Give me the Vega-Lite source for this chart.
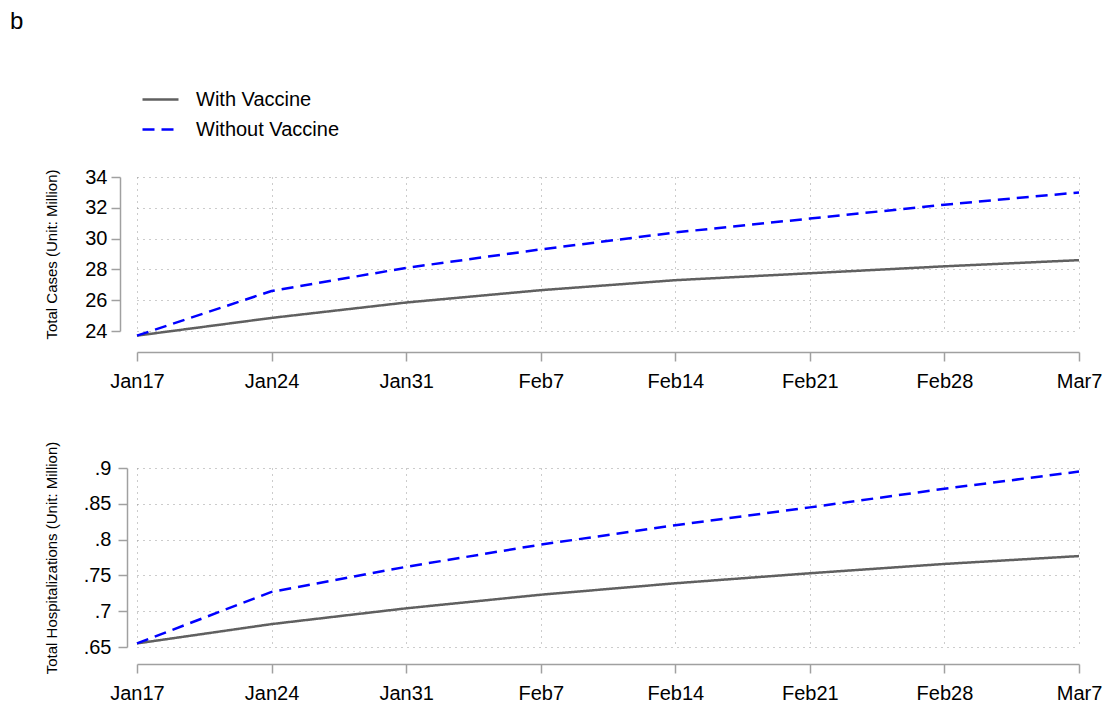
{
  "$schema": "https://vega.github.io/schema/vega-lite/v6.json",
  "background": "white",
  "padding": {"left": 10, "top": 10, "right": 20, "bottom": 0},
  "title": {"text": "b", "anchor": "start", "frame": "group", "fontSize": 24, "fontWeight": "normal", "font": "Liberation Sans", "color": "#000", "offset": 46, "dx": -127},
  "data": {
    "values": [
      {"date": "2021-01-17", "scenario": "With Vaccine", "cases": 23.7, "hosp": 0.655},
      {"date": "2021-01-24", "scenario": "With Vaccine", "cases": 24.85, "hosp": 0.682},
      {"date": "2021-01-31", "scenario": "With Vaccine", "cases": 25.85, "hosp": 0.704},
      {"date": "2021-02-07", "scenario": "With Vaccine", "cases": 26.65, "hosp": 0.723},
      {"date": "2021-02-14", "scenario": "With Vaccine", "cases": 27.3, "hosp": 0.739},
      {"date": "2021-02-21", "scenario": "With Vaccine", "cases": 27.75, "hosp": 0.753},
      {"date": "2021-02-28", "scenario": "With Vaccine", "cases": 28.2, "hosp": 0.766},
      {"date": "2021-03-07", "scenario": "With Vaccine", "cases": 28.6, "hosp": 0.777},
      {"date": "2021-01-17", "scenario": "Without Vaccine", "cases": 23.7, "hosp": 0.655},
      {"date": "2021-01-24", "scenario": "Without Vaccine", "cases": 26.6, "hosp": 0.727},
      {"date": "2021-01-31", "scenario": "Without Vaccine", "cases": 28.1, "hosp": 0.762},
      {"date": "2021-02-07", "scenario": "Without Vaccine", "cases": 29.3, "hosp": 0.793},
      {"date": "2021-02-14", "scenario": "Without Vaccine", "cases": 30.4, "hosp": 0.82},
      {"date": "2021-02-21", "scenario": "Without Vaccine", "cases": 31.3, "hosp": 0.845},
      {"date": "2021-02-28", "scenario": "Without Vaccine", "cases": 32.2, "hosp": 0.871},
      {"date": "2021-03-07", "scenario": "Without Vaccine", "cases": 33.0, "hosp": 0.895}
    ]
  },
  "spacing": 50,
  "vconcat": [
    {
      "width": 942,
      "height": 154,
      "mark": {"type": "line", "strokeWidth": 2.5, "clip": false},
      "encoding": {
        "x": {
          "field": "date", "type": "temporal",
          "scale": {"type": "utc", "domain": [{"year": 2021, "month": 1, "date": 17, "utc": true}, {"year": 2021, "month": 3, "date": 7, "utc": true}]},
          "axis": {
            "title": null, "offset": 21, "grid": true,
            "values": [
              {"year": 2021, "month": 1, "date": 17, "utc": true},
              {"year": 2021, "month": 1, "date": 24, "utc": true},
              {"year": 2021, "month": 1, "date": 31, "utc": true},
              {"year": 2021, "month": 2, "date": 7, "utc": true},
              {"year": 2021, "month": 2, "date": 14, "utc": true},
              {"year": 2021, "month": 2, "date": 21, "utc": true},
              {"year": 2021, "month": 2, "date": 28, "utc": true},
              {"year": 2021, "month": 3, "date": 7, "utc": true}
            ],
            "labelExpr": "utcFormat(datum.value, '%b%-d')",
            "labelFlush": false, "labelPadding": 10
          }
        },
        "y": {
          "field": "cases", "type": "quantitative",
          "scale": {"domain": [24, 34], "nice": false, "zero": false},
          "axis": {"title": "Total Cases (Unit: Million)", "offset": 17, "values": [24, 26, 28, 30, 32, 34], "titlePadding": 25, "labelPadding": 4}
        },
        "color": {
          "field": "scenario", "type": "nominal",
          "scale": {"domain": ["With Vaccine", "Without Vaccine"], "range": ["#606060", "#0000ff"]},
          "legend": {"title": null, "orient": "none", "legendX": 4, "legendY": -97, "direction": "vertical", "symbolType": "stroke", "symbolSize": 1296, "symbolStrokeWidth": 2.5, "labelFontSize": 20, "labelFont": "Liberation Sans", "labelColor": "#000", "rowPadding": 0, "labelOffset": 16}
        },
        "strokeDash": {
          "field": "scenario", "type": "nominal",
          "scale": {"domain": ["With Vaccine", "Without Vaccine"], "range": [[1, 0], [12, 7]]},
          "legend": null
        }
      }
    },
    {
      "width": 942,
      "height": 179,
      "mark": {"type": "line", "strokeWidth": 2.5, "clip": false},
      "encoding": {
        "x": {
          "field": "date", "type": "temporal",
          "scale": {"type": "utc", "domain": [{"year": 2021, "month": 1, "date": 17, "utc": true}, {"year": 2021, "month": 3, "date": 7, "utc": true}]},
          "axis": {
            "title": null, "offset": 17, "grid": true,
            "values": [
              {"year": 2021, "month": 1, "date": 17, "utc": true},
              {"year": 2021, "month": 1, "date": 24, "utc": true},
              {"year": 2021, "month": 1, "date": 31, "utc": true},
              {"year": 2021, "month": 2, "date": 7, "utc": true},
              {"year": 2021, "month": 2, "date": 14, "utc": true},
              {"year": 2021, "month": 2, "date": 21, "utc": true},
              {"year": 2021, "month": 2, "date": 28, "utc": true},
              {"year": 2021, "month": 3, "date": 7, "utc": true}
            ],
            "labelExpr": "utcFormat(datum.value, '%b%-d')",
            "labelFlush": false, "labelPadding": 10
          }
        },
        "y": {
          "field": "hosp", "type": "quantitative",
          "scale": {"domain": [0.65, 0.9], "nice": false, "zero": false},
          "axis": {"title": "Total Hospitalizations (Unit: Million)", "offset": 10, "values": [0.65, 0.7, 0.75, 0.8, 0.85, 0.9], "labelExpr": "replace(format(datum.value, '.2~f'), '0.', '.')", "titlePadding": 24, "labelPadding": 7}
        },
        "color": {
          "field": "scenario", "type": "nominal",
          "scale": {"domain": ["With Vaccine", "Without Vaccine"], "range": ["#606060", "#0000ff"]}
        },
        "strokeDash": {
          "field": "scenario", "type": "nominal",
          "scale": {"domain": ["With Vaccine", "Without Vaccine"], "range": [[1, 0], [12, 7]]},
          "legend": null
        }
      }
    }
  ],
  "config": {
    "view": {"stroke": null},
    "axis": {
      "domainColor": "#a0a0a0", "domainWidth": 1.5,
      "tickColor": "#a0a0a0", "tickWidth": 1.5, "tickSize": 9,
      "labelFont": "Liberation Sans", "labelFontSize": 20, "labelColor": "#000",
      "titleFont": "Liberation Sans", "titleFontSize": 15, "titleFontWeight": "normal", "titleColor": "#000",
      "gridColor": "#999999", "gridDash": [1, 5], "gridWidth": 1
    }
  }
}
